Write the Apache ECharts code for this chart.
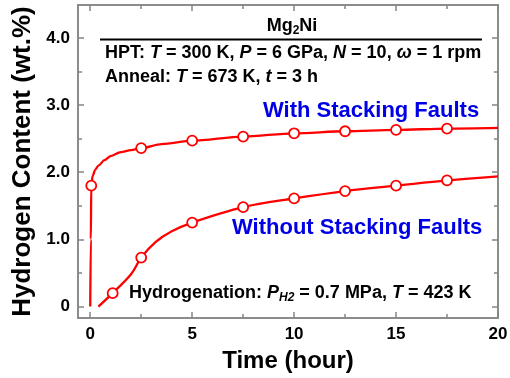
<!DOCTYPE html>
<html><head><meta charset="utf-8">
<script src="https://cdn.jsdelivr.net/npm/echarts@6/dist/echarts.min.js"></script>
<style>html,body{margin:0;padding:0;background:#fff}#c{width:510px;height:378px}</style>
</head><body><div id="c"></div>
<script>
// ---- data ----
const withCurveX = [0, 0.03, 0.05, 0.12, 0.25, 0.4, 0.7, 1.0, 1.5, 2.0, 2.5, 3.5, 5, 7.5, 10, 12.5, 15, 17.5, 20];
const withCurveY = [0, 1.0, 1.8, 1.95, 2.04, 2.1, 2.18, 2.24, 2.3, 2.33, 2.36, 2.42, 2.47, 2.53, 2.58, 2.61, 2.63, 2.65, 2.66];
const withMarkX = [0.05, 2.5, 5, 7.5, 10, 12.5, 15, 17.5];
const withMarkY = [1.80, 2.36, 2.47, 2.53, 2.58, 2.61, 2.63, 2.65];
const woCurveX = [0.4, 1.1, 2.0, 2.5, 3.2, 4.0, 5, 7.5, 10, 12.5, 15, 17.5, 20];
const woCurveY = [0.0, 0.2, 0.48, 0.73, 0.96, 1.12, 1.25, 1.48, 1.61, 1.72, 1.80, 1.88, 1.94];
const woMarkX = [1.1, 2.5, 5, 7.5, 10, 12.5, 15, 17.5];
const woMarkY = [0.2, 0.73, 1.25, 1.48, 1.61, 1.72, 1.80, 1.88];
const xTicks = [0, 5, 10, 15, 20];
const xMinorTicks = [2.5, 7.5, 12.5, 17.5];
const yTicks = [0, 1, 2, 3, 4];
const yTickLabels = ['0', '1.0', '2.0', '3.0', '4.0'];
const yMinorTicks = [0.5, 1.5, 2.5, 3.5];

const zip = (a, b) => a.map((v, i) => [v, b[i]]);
const FONT = '"Liberation Sans", Arial, sans-serif';
const AX = '#858585';
const RED = '#ff0000';
const BLUE = '#0000e6';

function ax(kind, pos, ticks, len, extra) {
  const base = {
    type: 'value', position: pos, gridIndex: 0,
    min: kind === 'x' ? -0.6 : -0.17,
    max: kind === 'x' ? 20 : 4.49,
    axisLine: { show: true, onZero: false, lineStyle: { color: AX, width: 1.5 } },
    axisTick: { show: true, inside: true, length: len, customValues: ticks, lineStyle: { color: AX, width: 1.5 } },
    axisLabel: { show: false },
    splitLine: { show: false }
  };
  return Object.assign(base, extra || {});
}
const lbl = { fontSize: 17, fontWeight: 'bold', color: '#000', fontFamily: FONT, margin: 8 };

const chart = echarts.init(document.getElementById('c'), null, { renderer: 'canvas' });
chart.setOption({
  animation: false,
  backgroundColor: '#fff',
  grid: { left: 78, right: 12, top: 5, bottom: 60, containLabel: false, outerBoundsMode: 'none' },
  xAxis: [
    ax('x', 'bottom', xTicks, 6, {
      axisLabel: Object.assign({ show: true, customValues: xTicks }, lbl),
      name: 'Time (hour)', nameLocation: 'middle', nameGap: 31,
      nameTextStyle: { fontSize: 24, fontWeight: 'bold', color: '#000', fontFamily: FONT }
    }),
    ax('x', 'bottom', xMinorTicks, 4),
    ax('x', 'top', xTicks, 6),
    ax('x', 'top', xMinorTicks, 4)
  ],
  yAxis: [
    ax('y', 'left', yTicks, 6, {
      axisLabel: Object.assign({ show: true, customValues: yTicks,
        formatter: v => yTickLabels[yTicks.indexOf(Math.round(v))] }, lbl),
      name: 'Hydrogen Content (wt.%)', nameLocation: 'middle', nameGap: 40,
      nameTextStyle: { fontSize: 26, fontWeight: 'bold', color: '#000', fontFamily: FONT }
    }),
    ax('y', 'left', yMinorTicks, 4),
    ax('y', 'right', yTicks, 6),
    ax('y', 'right', yMinorTicks, 4)
  ],
  series: [
    { type: 'line', data: zip(withCurveX, withCurveY), symbol: 'none', smooth: 0.3, smoothMonotone: 'x',
      lineStyle: { color: RED, width: 2.3 }, z: 2, silent: true },
    { type: 'line', data: zip(woCurveX, woCurveY), symbol: 'none', smooth: 0.35,
      lineStyle: { color: RED, width: 2.3 }, z: 2, silent: true },
    { type: 'scatter', data: zip(withMarkX, withMarkY), symbol: 'circle', symbolSize: 10,
      itemStyle: { color: '#fff', borderColor: RED, borderWidth: 1.8, opacity: 1 }, z: 3 },
    { type: 'scatter', data: zip(woMarkX, woMarkY), symbol: 'circle', symbolSize: 10,
      itemStyle: { color: '#fff', borderColor: RED, borderWidth: 1.8, opacity: 1 }, z: 3 }
  ],
  graphic: (function () {
    const b = { fontFamily: FONT, fontWeight: 'bold', fontSize: 18, fill: '#000', lineHeight: 18 };
    const i = Object.assign({}, b, { fontStyle: 'italic' });
    const sub = { fontFamily: FONT, fontWeight: 'bold', fontSize: 12, fill: '#000', lineHeight: 8, padding: [9, 0, 0, 0] };
    const subi = Object.assign({}, sub, { fontStyle: 'italic' });
    const rich = { b: b, i: i, sub: sub, subi: subi };
    return [
      { type: 'text', x: 292, y: 26, z: 10, style: { text: '{b|Mg}{sub|2}{b|Ni}', rich: rich, align: 'center', verticalAlign: 'middle' } },
      { type: 'line', z: 10, shape: { x1: 100, y1: 39.5, x2: 482, y2: 39.5 }, style: { stroke: '#000', lineWidth: 2 } },
      { type: 'text', x: 105, y: 53, z: 10, style: { text: '{b|HPT: }{i|T}{b| = 300 K, }{i|P}{b| = 6 GPa, }{i|N}{b| = 10, }{i|ω}{b| = 1 rpm}', rich: rich, align: 'left', verticalAlign: 'middle' } },
      { type: 'text', x: 105, y: 77, z: 10, style: { text: '{b|Anneal: }{i|T}{b| = 673 K, }{i|t}{b| = 3 h}', rich: rich, align: 'left', verticalAlign: 'middle' } },
      { type: 'text', x: 129, y: 293, z: 10, style: { text: '{b|Hydrogenation: }{i|P}{subi|H2}{b| = 0.7 MPa, }{i|T}{b| = 423 K}', rich: rich, align: 'left', verticalAlign: 'middle' } },
      { type: 'text', x: 263, y: 111, z: 10, style: { text: 'With Stacking Faults', fontFamily: FONT, fontWeight: 'bold', fontSize: 22, fill: BLUE, align: 'left', verticalAlign: 'middle' } },
      { type: 'text', x: 232, y: 228, z: 10, style: { text: 'Without Stacking Faults', fontFamily: FONT, fontWeight: 'bold', fontSize: 22, fill: BLUE, align: 'left', verticalAlign: 'middle' } }
    ];
  })()
});
</script>
</body></html>
